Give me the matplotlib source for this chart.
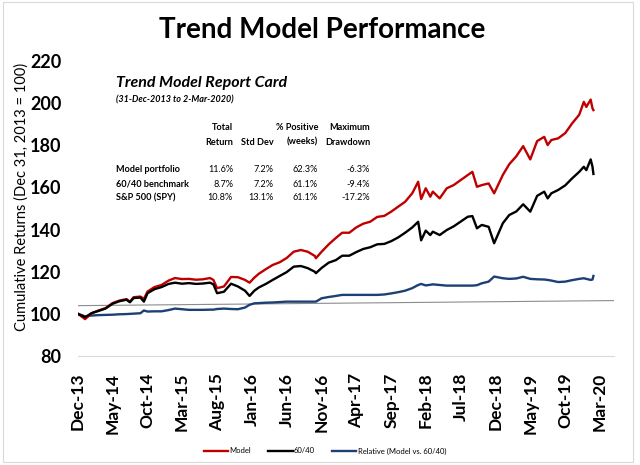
import matplotlib
matplotlib.use("Agg")
import matplotlib.pyplot as plt
from matplotlib.patches import Rectangle
import pandas as pd

plt.rcParams['font.family'] = ['Lato', 'DejaVu Sans']

# readings from the chart (index = 100 on 31-Dec-2013)
dates = ["2013-12-31", "2014-01-31", "2014-02-28", "2014-03-31", "2014-04-30", "2014-05-31",
         "2014-06-30", "2014-07-31", "2014-08-15", "2014-08-31", "2014-09-30", "2014-10-15",
         "2014-10-31", "2014-11-30", "2014-12-31", "2015-01-31", "2015-02-28", "2015-03-31",
         "2015-04-30", "2015-05-31", "2015-06-30", "2015-07-31", "2015-08-15", "2015-08-31",
         "2015-09-30", "2015-10-31", "2015-11-30", "2015-12-31", "2016-01-20", "2016-02-10",
         "2016-02-29", "2016-03-31", "2016-04-30", "2016-05-31", "2016-06-30", "2016-07-31",
         "2016-08-31", "2016-09-30", "2016-10-31", "2016-11-05", "2016-11-30", "2016-12-31",
         "2017-01-31", "2017-02-28", "2017-03-31", "2017-04-30", "2017-05-31", "2017-06-30",
         "2017-07-31", "2017-08-31", "2017-09-30", "2017-10-31", "2017-11-30", "2017-12-31",
         "2018-01-26", "2018-02-08", "2018-02-28", "2018-03-20", "2018-03-31", "2018-04-30",
         "2018-05-31", "2018-06-30", "2018-07-31", "2018-08-31", "2018-09-20", "2018-10-10",
         "2018-10-31", "2018-11-30", "2018-12-24", "2019-01-31", "2019-02-28", "2019-03-31",
         "2019-04-30", "2019-05-31", "2019-06-30", "2019-07-31", "2019-08-15", "2019-08-31",
         "2019-09-30", "2019-10-31", "2019-11-30", "2019-12-31", "2020-01-20", "2020-01-31",
         "2020-02-19", "2020-02-27", "2020-03-02"]

model = [100.0, 97.5, 100.3, 101.6, 102.7, 105.1,
         106.3, 107.0, 105.8, 107.9, 108.2, 107.1,
         110.6, 112.7, 113.7, 115.8, 117.0, 116.5,
         116.6, 116.2, 116.4, 117.0, 116.1, 112.2,
         113.0, 117.5, 117.4, 116.1, 114.8, 117.2,
         119.0, 121.2, 123.2, 124.5, 126.5, 129.5,
         130.3, 129.5, 127.5, 126.4, 129.5, 133.0,
         136.0, 138.5, 138.5, 141.0, 142.8, 143.7,
         146.0, 146.5, 148.5, 150.9, 153.2, 157.2,
         162.7, 154.5, 159.6, 155.6, 158.0, 154.8,
         159.6, 161.1, 163.5, 165.9, 167.4, 160.3,
         161.1, 161.9, 157.2, 165.9, 171.0, 174.8,
         179.6, 173.3, 182.0, 184.0, 180.1, 182.5,
         183.3, 185.8, 190.4, 194.5, 200.6, 198.2,
         201.7, 197.5, 196.7]

bench = [100.0, 98.4, 100.3, 101.4, 102.5, 104.8,
         106.0, 106.7, 105.5, 107.5, 107.7, 105.8,
         109.8, 111.7, 112.7, 114.2, 114.8, 114.3,
         114.6, 114.2, 114.4, 114.8, 114.0, 109.8,
         110.5, 114.3, 113.0, 111.0, 108.5, 111.0,
         112.5, 114.2, 116.1, 118.0, 119.8, 122.4,
         122.7, 121.7, 120.0, 119.3, 121.8, 124.3,
         125.5, 127.6, 127.6, 129.3, 130.8, 131.6,
         133.0, 133.2, 134.5, 136.3, 138.5, 141.0,
         143.7, 134.9, 139.5, 137.4, 139.0, 137.4,
         139.8, 141.5, 143.8, 146.1, 146.4, 140.6,
         142.2, 141.3, 133.5, 143.0, 146.9, 148.6,
         152.0, 148.5, 156.0, 158.0, 154.8, 157.2,
         158.8, 161.0, 164.3, 167.4, 169.8, 168.2,
         173.3, 169.8, 166.4]

relative = [100.0, 98.8, 99.2, 99.4, 99.5, 99.6,
            99.8, 99.9, 100.0, 100.1, 100.3, 101.6,
            101.1, 101.2, 101.2, 101.8, 102.5, 102.2,
            101.9, 101.9, 101.9, 102.0, 102.0, 102.3,
            102.5, 102.3, 102.2, 103.0, 104.3, 105.0,
            105.1, 105.3, 105.4, 105.6, 105.8, 105.8,
            105.8, 105.8, 105.8, 105.8, 107.4, 108.0,
            108.5, 109.0, 109.0, 109.0, 109.0, 109.0,
            109.0, 109.2, 109.7, 110.3, 111.0, 112.2,
            113.7, 114.2, 113.5, 113.8, 114.0, 113.7,
            113.4, 113.4, 113.4, 113.4, 113.4, 113.6,
            114.5, 115.3, 117.7, 116.9, 116.6, 116.8,
            117.6, 116.6, 116.4, 116.3, 116.1, 115.8,
            115.1, 115.3, 116.0, 116.6, 116.9, 116.6,
            116.1, 116.3, 118.0]

# thin grey reference line across the plot
ref_dates = ["2013-12-31", "2020-05-31"]
ref_values = [103.9, 106.3]

tick_labels = ["Dec-13", "May-14", "Oct-14", "Mar-15", "Aug-15", "Jan-16", "Jun-16", "Nov-16",
               "Apr-17", "Sep-17", "Feb-18", "Jul-18", "Dec-18", "May-19", "Oct-19", "Mar-20"]

table_rows = ["Model portfolio", "60/40 benchmark", "S&P 500 (SPY)"]
total_return = ["11.6%", "8.7%", "10.8%"]
std_dev = ["7.2%", "7.2%", "13.1%"]
pct_positive = ["62.3%", "61.1%", "61.1%"]
max_drawdown = ["-6.3%", "-9.4%", "-17.2%"]

W, H = 640, 465


def fx(x):
    return x / W


def fy(y):
    return 1 - y / H


d = pd.to_datetime(dates)
fig = plt.figure(figsize=(6.4, 4.65), dpi=100)
ax = fig.add_axes([fx(78), fy(356), fx(614) - fx(78), fy(61) - fy(356)])

ax.plot(pd.to_datetime(ref_dates), ref_values, color="#8c8c8c", lw=0.8, zorder=1)
ax.plot(d, model, color="#C00000", lw=1.7, label="Model", zorder=3)
ax.plot(d, bench, color="black", lw=1.7, label="60/40", zorder=3)
ax.plot(d, relative, color="#1c3f74", lw=1.7, label="Relative (Model vs. 60/40)", zorder=2)

ax.set_ylim(80, 220)
ax.set_yticks(range(80, 221, 20))
ax.set_xlim(pd.Timestamp("2013-12-31"), pd.Timestamp("2020-05-31"))
ticks = pd.date_range("2013-12-31", periods=len(tick_labels), freq="5ME")
ax.set_xticks(ticks)
ax.set_xticklabels(tick_labels, rotation=90, fontsize=12.5, fontweight="bold")
for lbl in ax.get_yticklabels():
    lbl.set_fontsize(13)
    lbl.set_fontweight("bold")
ax.tick_params(axis="both", length=0)
ax.tick_params(axis="y", pad=12)
ax.tick_params(axis="x", pad=12)
for s in ["top", "right", "left"]:
    ax.spines[s].set_visible(False)
ax.spines["bottom"].set_color("#d9d9d9")

fig.text(fx(22), fy(197), "Cumulative Returns (Dec 31, 2013 = 100)", rotation=90,
         fontsize=10.5, ha="center", va="center")
fig.text(fx(322), fy(30), "Trend Model Performance", fontsize=20, fontweight="bold",
         ha="center", va="center")

# report card
fig.text(fx(116), fy(83), "Trend Model Report Card", fontsize=11.5, fontweight="bold",
         style="italic", ha="left", va="center")
fig.text(fx(116), fy(100), "(31-Dec-2013 to 2-Mar-2020)", fontsize=6.5, fontweight="bold",
         style="italic", ha="left", va="center")
fs = 6.6
col_x = [233, 274, 318, 370]
headers1 = ["Total", "", "% Positive", "Maximum"]
headers2 = ["Return", "Std Dev", "(weeks)", "Drawdown"]
for cx, h1, h2 in zip(col_x, headers1, headers2):
    fig.text(fx(cx), fy(128), h1, fontsize=fs, fontweight="bold", ha="right", va="center")
    fig.text(fx(cx), fy(142), h2, fontsize=fs, fontweight="bold", ha="right", va="center")
row_y = [170, 184, 198]
for ry, name, a, b, c, e in zip(row_y, table_rows, total_return, std_dev, pct_positive, max_drawdown):
    fig.text(fx(116), fy(ry), name, fontsize=fs, fontweight="bold", ha="left", va="center")
    for cx, val in zip(col_x, [a, b, c, e]):
        fig.text(fx(cx), fy(ry), val, fontsize=fs, ha="right", va="center")

fig.legend(loc="center", bbox_to_anchor=(fx(325), fy(451)), ncol=3, frameon=False,
           fontsize=5.5, handlelength=3.2, columnspacing=2.2, handletextpad=0.2)

fig.patches.append(Rectangle((fx(3), fy(462)), fx(633) - fx(3), fy(2) - fy(462),
                             transform=fig.transFigure, fill=False, edgecolor="#d9d9d9", lw=0.8))

fig.savefig("out.png", dpi=100)
